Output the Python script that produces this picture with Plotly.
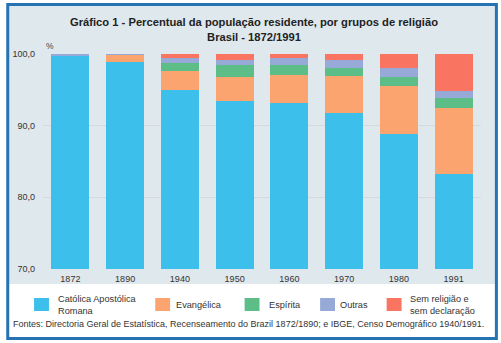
import plotly.graph_objects as go

# Religious groups, share of resident population (%)
years = ["1872", "1890", "1940", "1950", "1960", "1970", "1980", "1991"]
catolica = [99.7, 98.9, 95.0, 93.5, 93.1, 91.8, 88.9, 83.3]
evangelica = [0.0, 1.0, 2.6, 3.3, 4.0, 5.1, 6.6, 9.1]
espirita = [0.0, 0.0, 1.2, 1.6, 1.4, 1.2, 1.3, 1.5]
outras = [0.3, 0.1, 0.7, 0.8, 0.9, 1.1, 1.2, 0.9]
sem_religiao = [0.0, 0.0, 0.5, 0.8, 0.6, 0.8, 2.0, 5.2]

group_names = ["Católica Apostólica<br>Romana", "Evangélica", "Espírita",
               "Outras", "Sem religião e<br>sem declaração"]
group_values = [catolica, evangelica, espirita, outras, sem_religiao]
group_colors = ["#3cbfea", "#fca46f", "#5dbd86", "#97aad7", "#fa7462"]

W, H = 501, 343
L, R, T, B = 40, 20, 54, 74
PW, PH = W - L - R, H - T - B
FONT = "Liberation Sans"


def px(x):
    return (x - L) / PW


def py(y):
    return (H - B - y) / PH


fig = go.Figure()
for name, vals, col in zip(group_names, group_values, group_colors):
    fig.add_trace(go.Bar(x=years, y=vals, name=name, marker_color=col,
                         marker_line_width=0, showlegend=False))

shapes = [
    # panel behind the chart
    dict(type="rect", xref="paper", yref="paper", x0=px(5), x1=px(496),
         y0=py(5), y1=py(284), fillcolor="#dfe8ed", line_width=0, layer="below"),
    # outer frame
    dict(type="rect", xref="paper", yref="paper", x0=px(4.5), x1=px(496.5),
         y0=py(4.5), y1=py(338.5), line=dict(color="#2673b4", width=3),
         fillcolor="rgba(0,0,0,0)", layer="above"),
]

annotations = [
    dict(text="<b>Gráfico 1 - Percentual da população residente, por grupos de religião"
              "<br>Brasil - 1872/1991</b>",
         xref="paper", yref="paper", x=px(252), y=py(29), xanchor="center",
         yanchor="middle", showarrow=False,
         font=dict(family=FONT, size=11.2, color="#222222")),
    dict(text="%", xref="paper", yref="paper", x=px(41), y=py(46),
         xanchor="left", yanchor="middle", showarrow=False,
         font=dict(family=FONT, size=8.5, color="#444444")),
    dict(text="Fontes: Directoria Geral de Estatística, Recenseamento do Brazil 1872/1890; "
              "e IBGE, Censo Demográfico 1940/1991.",
         xref="paper", yref="paper", x=px(8), y=py(324), xanchor="left",
         yanchor="middle", showarrow=False,
         font=dict(family=FONT, size=9, color="#333333")),
]

# legend: colour squares with labels
legend_sq_x = [31, 153, 243, 319, 386]
legend_tx_x = [53, 172, 266, 337, 407]
for name, col, sx, tx in zip(group_names, group_colors, legend_sq_x, legend_tx_x):
    shapes.append(dict(type="rect", xref="paper", yref="paper",
                       x0=px(sx), x1=px(sx + 15), y0=py(298), y1=py(311),
                       fillcolor=col, line_width=0))
    annotations.append(dict(text=name, xref="paper", yref="paper", x=px(tx),
                            y=py(304.5), xanchor="left", yanchor="middle",
                            align="left", showarrow=False,
                            font=dict(family=FONT, size=9.2, color="#333333")))

fig.update_layout(
    width=W, height=H,
    margin=dict(l=L, r=R, t=T, b=B, pad=0),
    paper_bgcolor="white",
    plot_bgcolor="white",
    barmode="stack",
    bargap=0.31,
    separators=",.",
    shapes=shapes,
    annotations=annotations,
    font=dict(family=FONT, color="#333333"),
)
fig.update_xaxes(
    showgrid=False, ticks="", showline=False,
    tickfont=dict(family=FONT, size=9, color="#333333"),
    ticklabelstandoff=3,
)
fig.update_yaxes(
    range=[70, 100], dtick=10, tickformat=".1f",
    showgrid=True, gridcolor="#d6d9dc", gridwidth=1, zeroline=False,
    tickfont=dict(family=FONT, size=9, color="#333333"), ticks="",
    ticklabelstandoff=7,
)

fig.write_html("out.html")
